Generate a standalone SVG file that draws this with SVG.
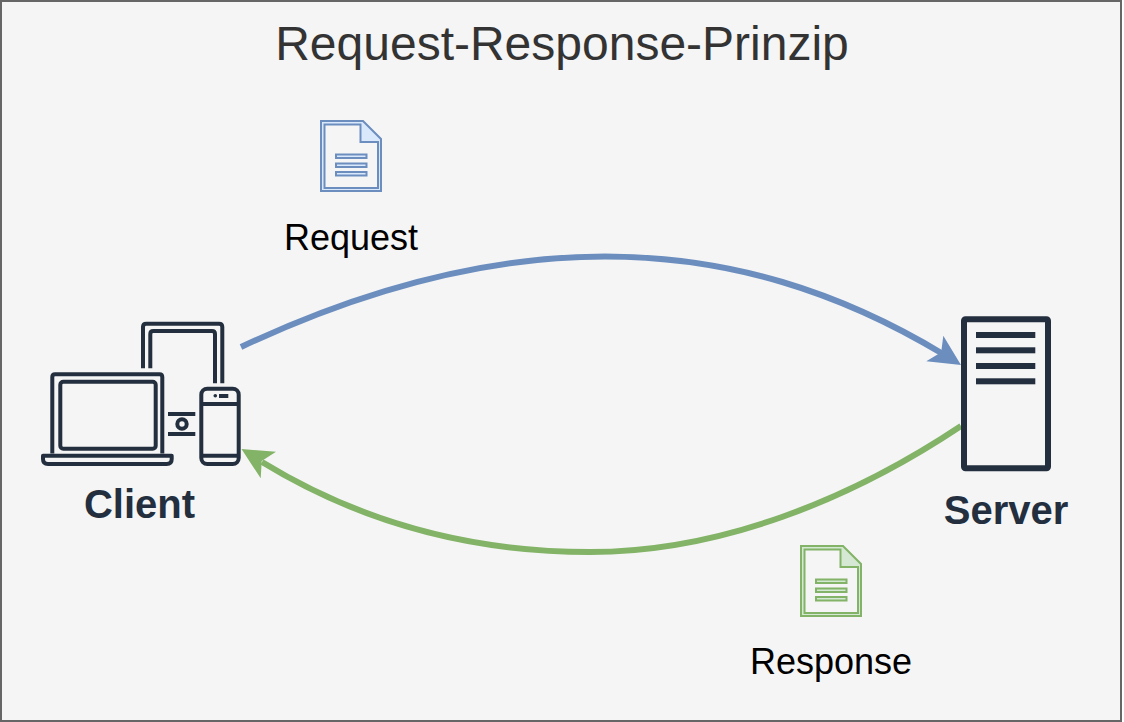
<svg xmlns="http://www.w3.org/2000/svg" width="1124" height="722" viewBox="0 0 1124 722">
<style>
.t{font-family:"Liberation Sans",Arial,sans-serif;text-anchor:middle}
.l{font-size:36px;fill:#000}
.b{font-size:40px;font-weight:bold;fill:#232f3e}
.i{fill:none;stroke:#232f3e;stroke-width:4;stroke-linejoin:round}
.d{fill:#232f3e}
.c{fill:none;stroke-width:6}
</style>
<rect x="1" y="1" width="1120" height="720" fill="#f5f5f5" stroke="#666" stroke-width="2"/>
<text class="t" x="562" y="60" font-size="48" fill="#333">Request-Response-Prinzip</text>
<g id="connectors">
<path class="c" stroke="#6c8ebf" d="M241,347C345,298 470,256.500 605,256.500C730,256.500 840,292 943,354"/>
<path fill="#6c8ebf" d="M961,365L926.300,361.300L941.200,352.300L943.300,335.700Z"/>
<path class="c" stroke="#82b366" d="M961,426C850,500 720,552 590,552C470,552 360,522 262,462"/>
<path fill="#82b366" d="M241.500,449L276,451.700L261.700,461.100L260.700,478.300Z"/>
</g>
<g id="request-doc">
<path d="M321,121H363L381,139V191H321Z" fill="#dae8fc" stroke="#6c8ebf" stroke-width="2"/>
<path d="M324.500,124.500H360.500V142H378V188H324.500Z" fill="#f5f5f5" stroke="#6c8ebf" stroke-width="2"/>
<path d="M336,154.500H366.500V158H336ZM336,163.500H366.500V167H336ZM336,172H366.500V175.500H336Z" fill="#dae8fc" stroke="#6c8ebf" stroke-width="2"/>
<text class="t l" x="351" y="250">Request</text>
</g>
<g id="response-doc">
<path d="M801,546H843L861,564V616H801Z" fill="#d5e8d4" stroke="#82b366" stroke-width="2"/>
<path d="M804.500,549.500H840.500V567H858V613H804.500Z" fill="#f5f5f5" stroke="#82b366" stroke-width="2"/>
<path d="M816,579.500H846.500V583H816ZM816,588.500H846.500V592H816ZM816,597H846.500V600.500H816Z" fill="#d5e8d4" stroke="#82b366" stroke-width="2"/>
<text class="t l" x="831" y="674">Response</text>
</g>
<g id="client">
<path class="i" d="M143,368.300V327Q143,323.700 146.300,323.700H219Q222.300,323.700 222.300,327V383.300"/>
<path class="i" d="M150.300,368.300V334Q150.300,331 153.300,331H212Q215,331 215,334V383.300"/>
<path class="i" d="M52.300,453.500V377Q52.300,374.300 55,374.300H159.600Q162.300,374.300 162.300,377V453.500"/>
<rect class="i" x="60.300" y="381.700" width="95.400" height="67" rx="3"/>
<path class="i" d="M43,455.700H171.700V459Q171.700,464 166.700,464H48Q43,464 43,459Z"/>
<rect class="i" x="201.300" y="388.700" width="37.400" height="75.300" rx="6"/>
<path class="i" d="M201.300,404H238.700M201.300,455.700H238.700"/>
<circle class="d" cx="215.300" cy="395.700" r="1.800"/>
<rect class="d" x="219" y="394" width="9.300" height="4"/>
<rect class="d" x="168" y="412" width="27.300" height="4"/>
<rect class="d" x="168" y="432" width="27.300" height="4"/>
<circle class="i" cx="182" cy="424" r="4.700"/>
<text class="t b" x="139.500" y="518">Client</text>
</g>
<g id="server">
<rect x="964" y="319.300" width="84" height="149" rx="1.500" fill="none" stroke="#232f3e" stroke-width="6" stroke-linejoin="round"/>
<rect class="d" x="976" y="332" width="59.300" height="6"/>
<rect class="d" x="976" y="347.300" width="59.300" height="6"/>
<rect class="d" x="976" y="363" width="59.300" height="6"/>
<rect class="d" x="976" y="378.300" width="59.300" height="6"/>
<text class="t b" x="1006" y="524">Server</text>
</g>
</svg>
